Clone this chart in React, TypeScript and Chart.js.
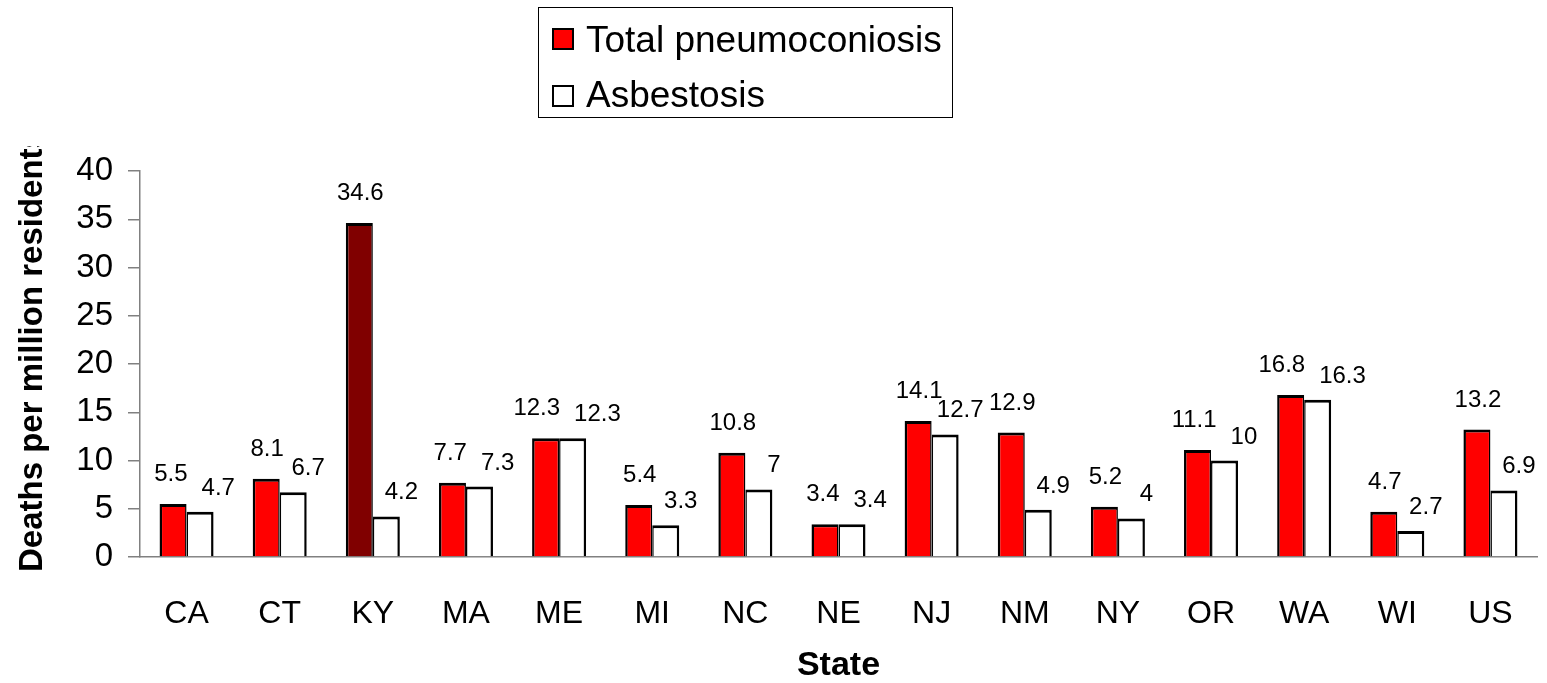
import React, { useEffect, useRef } from "react";
import { Chart, registerables } from "chart.js";

Chart.register(...registerables);

const states = ["CA", "CT", "KY", "MA", "ME", "MI", "NC", "NE", "NJ", "NM", "NY", "OR", "WA", "WI", "US"];
const totalPneumoconiosis = [5.5, 8.1, 34.6, 7.7, 12.3, 5.4, 10.8, 3.4, 14.1, 12.9, 5.2, 11.1, 16.8, 4.7, 13.2];
const asbestosis = [4.7, 6.7, 4.2, 7.3, 12.3, 3.3, 7, 3.4, 12.7, 4.9, 4, 10, 16.3, 2.7, 6.9];
const seriesNames = ["Total pneumoconiosis", "Asbestosis"];
const yTitle = "Deaths per million residents";
const xTitle = "State";

const FONT = "'Liberation Sans', Arial, sans-serif";
const W = 1547;
const H = 683;

const labelsPlugin = {
  id: "valueLabels",
  afterDatasetsDraw(chart: any) {
    const ctx = chart.ctx;
    ctx.save();
    ctx.font = `24px ${FONT}`;
    ctx.fillStyle = "#000";
    ctx.textAlign = "center";
    ctx.textBaseline = "alphabetic";
    const m0 = chart.getDatasetMeta(0);
    const m1 = chart.getDatasetMeta(1);
    const d0 = chart.data.datasets[0].data;
    const d1 = chart.data.datasets[1].data;
    const textH = 18;
    for (let i = 0; i < d0.length; i++) {
      const e0 = m0.data[i];
      const e1 = m1.data[i];
      const t0 = String(d0[i]);
      const t1 = String(d1[i]);
      let x0 = e0.x + 1;
      let y0 = e0.y - 23;
      let x1 = e1.x + 15;
      let y1 = e1.y - 17;
      const w0 = ctx.measureText(t0).width;
      const w1 = ctx.measureText(t1).width;
      if (Math.abs(y0 - y1) < textH) {
        const need = (w0 + w1) / 2 + 14;
        const dist = x1 - x0;
        if (dist < need) {
          const shift = (need - dist) / 2;
          x0 -= shift;
          x1 += shift;
        }
      }
      ctx.fillText(t0, x0, y0);
      ctx.fillText(t1, x1, y1);
    }
    ctx.restore();
  },
};

const legendAndTitlePlugin = {
  id: "customLegend",
  afterDraw(chart: any) {
    const ctx = chart.ctx;
    ctx.save();
    ctx.strokeStyle = "#000";
    ctx.lineWidth = 1;
    ctx.strokeRect(538.5, 7.5, 414, 110);
    const rows = [
      { sq: 29, base: 52 },
      { sq: 86, base: 107 },
    ];
    chart.data.datasets.forEach((ds: any, di: number) => {
      const r = rows[di];
      ctx.fillStyle = ds.legendColor;
      ctx.fillRect(553, r.sq, 20, 20);
      ctx.lineWidth = 2;
      ctx.strokeStyle = "#000";
      ctx.strokeRect(553, r.sq, 20, 20);
      ctx.fillStyle = "#000";
      ctx.font = `37px ${FONT}`;
      ctx.textAlign = "left";
      ctx.textBaseline = "alphabetic";
      ctx.fillText(ds.label, 586, r.base);
    });
    ctx.restore();

    ctx.save();
    ctx.beginPath();
    ctx.rect(0, 146, 140, H - 146);
    ctx.clip();
    ctx.translate(42, 572);
    ctx.rotate(-Math.PI / 2);
    ctx.font = `bold 33px ${FONT}`;
    ctx.fillStyle = "#000";
    ctx.textAlign = "left";
    ctx.textBaseline = "alphabetic";
    ctx.fillText(yTitle, 0, 0);
    ctx.restore();
  },
};

export default function App() {
  const ref = useRef<HTMLCanvasElement>(null);
  useEffect(() => {
    document.body.style.margin = "0";
    const canvas = ref.current!;
    const redColors = states.map((s) => (s === "KY" ? "#800000" : "#ff0000"));
    const chart = new Chart(canvas, {
      type: "bar",
      data: {
        labels: states,
        datasets: [
          {
            label: seriesNames[0],
            data: totalPneumoconiosis,
            backgroundColor: redColors,
            borderColor: "#000",
            borderWidth: { top: 3, left: 2.5, right: 1.5, bottom: 0 },
            borderSkipped: false,
            legendColor: "#ff0000",
          } as any,
          {
            label: seriesNames[1],
            data: asbestosis,
            backgroundColor: "#ffffff",
            borderColor: "#000",
            borderWidth: { top: 3, left: 1.5, right: 2.5, bottom: 0 },
            borderSkipped: false,
            legendColor: "#ffffff",
          } as any,
        ],
      },
      options: {
        animation: false,
        responsive: false,
        maintainAspectRatio: false,
        datasets: { bar: { categoryPercentage: 0.58, barPercentage: 1 } },
        layout: { padding: { top: 171, right: 10, left: 0, bottom: 0 } },
        plugins: {
          legend: { display: false },
          tooltip: { enabled: false },
        },
        scales: {
          x: {
            grid: { display: false },
            border: { display: true, color: "#808080", width: 1.5 },
            ticks: { color: "#000", font: { family: FONT, size: 32 }, padding: 30 },
            title: {
              display: true,
              text: xTitle,
              color: "#000",
              font: { family: FONT, size: 34, weight: "bold", lineHeight: 1 },
              padding: { top: 0, bottom: 0 },
            },
            afterFit(scale: any) {
              scale.height = 126;
            },
          },
          y: {
            min: 0,
            max: 40,
            ticks: { stepSize: 5, color: "#000", font: { family: FONT, size: 33 }, padding: 15 },
            grid: { drawOnChartArea: false, drawTicks: true, tickLength: 12, color: "#808080", lineWidth: 1.5 },
            border: { display: true, color: "#808080", width: 1.5 },
            afterFit(scale: any) {
              scale.width = 140;
            },
          },
        },
      },
      plugins: [labelsPlugin, legendAndTitlePlugin],
    });
    return () => chart.destroy();
  }, []);
  return (
    <div style={{ position: "fixed", left: 0, top: 0, width: W, height: H, background: "#fff" }}>
      <canvas ref={ref} width={W} height={H} style={{ width: W, height: H, display: "block" }} />
    </div>
  );
}
